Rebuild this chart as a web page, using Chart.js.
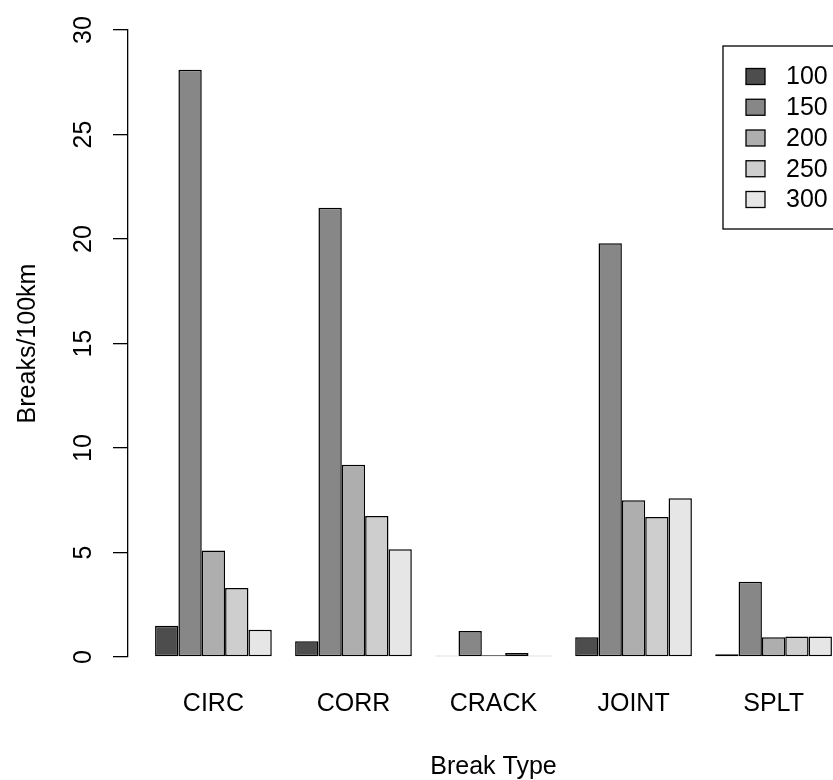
<!DOCTYPE html>
<html>
<head>
<meta charset="utf-8">
<script src="https://cdn.jsdelivr.net/npm/chart.js@4.4.1/dist/chart.umd.min.js"></script>
<style>
  html, body { margin: 0; padding: 0; background: #fff; overflow: hidden; }
  #wrap { width: 833px; height: 780px; overflow: hidden; }
</style>
</head>
<body>
<div id="wrap">
  <canvas id="breaks" width="870" height="780"></canvas>
</div>
<script>
// break types and pipe size classes
var categories = ['CIRC', 'CORR', 'CRACK', 'JOINT', 'SPLT'];
var sizes = ['100', '150', '200', '250', '300'];

// breaks per 100km, one array per size class
var size100 = [1.5, 0.75, 0.06, 0.95, 0.13];
var size150 = [28.1, 21.5, 1.25, 19.8, 3.6];
var size200 = [5.1, 9.2, 0.08, 7.5, 0.95];
var size250 = [3.3, 6.75, 0.19, 6.7, 0.98];
var size300 = [1.3, 5.15, 0.06, 7.6, 0.98];

var yTicks = [0, 5, 10, 15, 20, 25, 30];

var greys = ['#4D4D4D', '#878787', '#AEAEAE', '#CECECE', '#E6E6E6'];
var font = 'Liberation Sans, Arial, sans-serif';

var allSeries = [size100, size150, size200, size250, size300];
var datasets = allSeries.map(function(vals, k) {
    return {
        label: sizes[k],
        data: vals.map(function(v, i) { return { x: i, y: v }; }),
        backgroundColor: greys[k],
        borderColor: '#000',
        borderWidth: 1.5,
        borderSkipped: false,
        categoryPercentage: 5 / 6,
        barPercentage: 1
    };
});

/* legend box like R's legend() */
var boxLegend = {
    id: 'boxLegend',
    afterDraw: function(chart) {
        var ctx = chart.ctx;
        var area = chart.chartArea;
        var w = 136, h = 183;
        var left = area.right - w, top = area.top + 16;
        ctx.save();
        ctx.lineWidth = 1.3;
        ctx.strokeStyle = '#000';
        ctx.fillStyle = '#fff';
        ctx.fillRect(left, top, w, h);
        ctx.strokeRect(left, top, w, h);
        ctx.font = '25px ' + font;
        ctx.textBaseline = 'middle';
        chart.data.datasets.forEach(function(ds, i) {
            var cy = top + 30.5 + i * 30.75;
            ctx.fillStyle = ds.backgroundColor;
            ctx.fillRect(left + 23, cy - 8, 19, 16);
            ctx.strokeRect(left + 23, cy - 8, 19, 16);
            ctx.fillStyle = '#000';
            ctx.fillText(ds.label, left + 63, cy + 1);
        });
        ctx.restore();
    }
};

var ctx = document.getElementById('breaks');
var chart = new Chart(ctx, {
    type: 'bar',
    data: { datasets: datasets },
    options: {
        responsive: false,
        animation: false,
        layout: { padding: { top: 21, right: 11, left: 0, bottom: 0 } },
        plugins: {
            legend: { display: false },
            tooltip: { enabled: false }
        },
        scales: {
            x: {
                type: 'linear',
                offset: false,
                // R pads the bar span by 4% on each side
                min: -0.61,
                max: 4.61,
                afterBuildTicks: function(scale) {
                    scale.ticks = categories.map(function(c, i) { return { value: i }; });
                },
                afterFit: function(scale) { scale.height = 123; },
                grid: { display: false, drawTicks: false, offset: false },
                border: { display: false },
                ticks: {
                    autoSkip: false,
                    maxRotation: 0,
                    padding: 32,
                    color: '#000',
                    font: { family: font, size: 25 },
                    callback: function(v) { return categories[v] !== undefined ? categories[v] : ''; }
                },
                title: {
                    display: true,
                    text: 'Break Type',
                    color: '#000',
                    font: { family: font, size: 25 },
                    padding: { top: 0, bottom: -2 }
                }
            },
            y: {
                min: 0,
                max: 30,
                afterBuildTicks: function(scale) {
                    scale.ticks = yTicks.map(function(v) { return { value: v }; });
                },
                afterFit: function(scale) { scale.width = 128; },
                grid: {
                    drawOnChartArea: false,
                    drawTicks: true,
                    tickLength: 15,
                    tickColor: '#000',
                    lineWidth: 1.3
                },
                border: { display: true, color: '#000', width: 1.3 },
                ticks: {
                    minRotation: 90,
                    maxRotation: 90,
                    crossAlign: 'center',
                    padding: 15,
                    color: '#000',
                    font: { family: font, size: 25 }
                },
                title: {
                    display: true,
                    text: 'Breaks/100km',
                    color: '#000',
                    font: { family: font, size: 25 },
                    padding: { top: 13, bottom: 0 }
                }
            }
        }
    },
    plugins: [boxLegend]
});
</script>
</body>
</html>
